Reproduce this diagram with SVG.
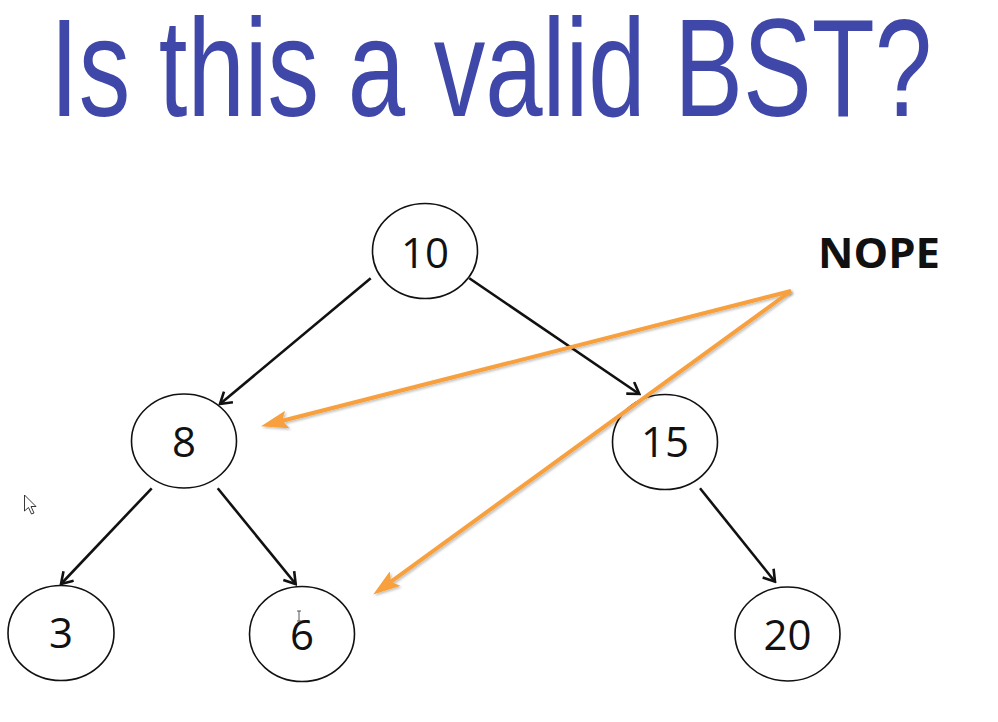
<svg xmlns="http://www.w3.org/2000/svg" width="998" height="722" viewBox="0 0 998 722">
  <style>
    .title { font-family: "Liberation Sans", Arial, sans-serif; font-size: 140px; fill: #3f48a8; }
    .node ellipse { fill: #ffffff; stroke: #111111; stroke-width: 1.6; }
    .node text { font-family: "Open Sans", "Noto Sans", sans-serif; font-size: 42px; fill: #111111; text-anchor: middle; }
    .edge { stroke: #111111; stroke-width: 2.6; fill: none; marker-end: url(#chev); }
    .note { stroke: #f7a03c; stroke-width: 4; fill: none; marker-end: url(#orangeHead); filter: url(#shadow); }
    .label { font-family: "Open Sans", "Noto Sans", sans-serif; font-weight: bold; font-size: 41px; fill: #111111; }
  </style>
  <defs>
    <marker id="chev" viewBox="0 0 14 16" markerWidth="14" markerHeight="16" refX="12" refY="8" orient="auto" markerUnits="userSpaceOnUse">
      <path d="M1,1 L12,8 L1,15" fill="none" stroke="#111111" stroke-width="2.6" stroke-linejoin="miter"/>
    </marker>
    <marker id="orangeHead" viewBox="0 0 27 18" markerWidth="27" markerHeight="18" refX="16" refY="9" orient="auto" markerUnits="userSpaceOnUse">
      <path d="M0,0 L27,9 L0,18 L5,9 Z" fill="#f7a03c"/>
    </marker>
    <filter id="shadow" x="-10%" y="-10%" width="120%" height="120%">
      <feDropShadow dx="1.5" dy="1.5" stdDeviation="1" flood-color="#000000" flood-opacity="0.25"/>
    </filter>
  </defs>

  <rect width="998" height="722" fill="#ffffff"/>

  <text class="title" x="50" y="116" textLength="882" lengthAdjust="spacingAndGlyphs">Is this a valid BST?</text>

  <g id="connectors">
    <line class="edge" x1="370.7" y1="278.3" x2="220" y2="404"/>
    <line class="edge" x1="469.3" y1="278.3" x2="639.3" y2="394"/>
    <line class="edge" x1="151.7" y1="488.3" x2="61" y2="584"/>
    <line class="edge" x1="217.7" y1="488.3" x2="295.7" y2="584"/>
    <line class="edge" x1="700" y1="488.3" x2="775" y2="581.7"/>
  </g>

  <g id="node-10" class="node">
    <ellipse cx="425" cy="251" rx="52.5" ry="47.5"/>
    <text x="425" y="268">10</text>
  </g>
  <g id="node-8" class="node">
    <ellipse cx="184" cy="441" rx="52.5" ry="47"/>
    <text x="184" y="457">8</text>
  </g>
  <g id="node-15" class="node">
    <ellipse cx="665" cy="442" rx="52.5" ry="47.5"/>
    <text x="665" y="457">15</text>
  </g>
  <g id="node-3" class="node">
    <ellipse cx="61" cy="633" rx="53" ry="47.5"/>
    <text x="61" y="648">3</text>
  </g>
  <g id="node-6" class="node">
    <ellipse cx="302" cy="634" rx="52.5" ry="47.5"/>
    <text x="302" y="650">6</text>
  </g>
  <g id="node-20" class="node">
    <ellipse cx="787.5" cy="634" rx="52.5" ry="47"/>
    <text x="787.5" y="650">20</text>
  </g>

  <g id="annotation">
    <text class="label" x="818" y="268" textLength="122" lengthAdjust="spacingAndGlyphs">NOPE</text>
    <line class="note" x1="791" y1="291" x2="271.7" y2="423.5"/>
    <line class="note" x1="791" y1="291" x2="382.1" y2="588.1"/>
  </g>

  <g id="cursors">
    <path d="M24.5,495 L24.5,511 L28.5,507.5 L31.5,514 L34,513 L31,506.5 L36,506.5 Z" fill="#ffffff" stroke="#222222" stroke-width="0.9" stroke-linejoin="round"/>
    <path d="M297,611 L301,611 M299,611 L299,621 M297,621 L301,621" fill="none" stroke="#555555" stroke-width="1"/>
  </g>
</svg>
